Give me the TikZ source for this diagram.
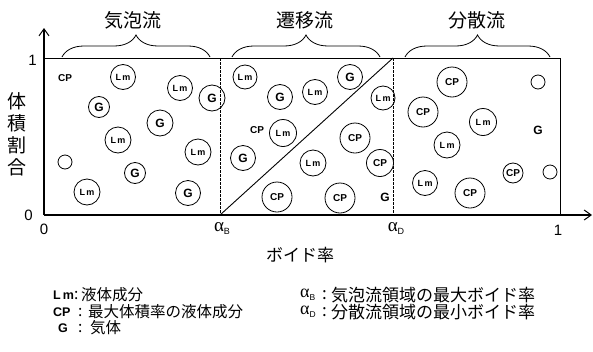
\documentclass[tikz,border=0pt]{standalone}
\usepackage{fontspec}
\setmainfont{Liberation Sans}
\newfontfamily\jp{Noto Sans CJK JP}
\newfontfamily\ser{Liberation Serif}
\usetikzlibrary{decorations.pathreplacing,arrows.meta}
\begin{document}
\begin{tikzpicture}[x=1pt,y=-1pt,
  bub/.style={circle,draw,line width=0.8pt,inner sep=0pt,minimum size=#1},
  lmf/.style={font=\bfseries\fontsize{9}{9}\selectfont},
  gf/.style={font=\bfseries\fontsize{12}{12}\selectfont},
  cpf/.style={font=\bfseries\fontsize{10}{10}\selectfont},
  head/.style={font=\jp\fontsize{19}{19}\selectfont,inner sep=0pt},
  num/.style={font=\fontsize{15}{15}\selectfont,inner sep=0pt},
  alf/.style={font=\ser\fontsize{19}{19}\selectfont,inner sep=0pt},
  leg/.style={font=\jp\fontsize{15.5}{15.5}\selectfont,inner sep=0pt,anchor=west},
  legr/.style={font=\jp\fontsize{17}{17}\selectfont,inner sep=0pt,anchor=west},
  legl/.style={font=\bfseries\fontsize{12.5}{12.5}\selectfont,inner sep=0pt,anchor=west},
  brc/.style={decorate,decoration={brace,amplitude=22pt},line width=0.8pt},
  axis/.style={line width=1.4pt,-{Straight Barb[length=7pt,width=10pt,line width=1pt]}},
  frame/.style={line width=0.9pt},
  dsh/.style={dashed,line width=0.6pt,dash pattern=on 2.5pt off 1.5pt}
]
\useasboundingbox (0,0) rectangle (593,351);
% axes and frame
\coordinate (O) at (44,215);
\coordinate (Yt) at (44,28);
\coordinate (Xr) at (592,215);
\coordinate (TL) at (44,58);
\coordinate (TR) at (560,58);
\coordinate (BR) at (560,215);
\coordinate (aBt) at (220,58);
\coordinate (aBb) at (220,215);
\coordinate (aDt) at (393,58);
\coordinate (aDb) at (393,215);
\draw[frame] (TL) -- (TR) -- (BR);
\draw[dsh] (aBt) -- (aBb);
\draw[dsh] (aDt) -- (aDb);
\draw[line width=0.9pt] (aBb) -- (aDt);
\draw[axis] (O) -- (Yt);
\draw[axis] (O) -- (Xr);
% braces and headings
\coordinate (b1a) at (62,57); \coordinate (b1b) at (210,57);
\coordinate (b2a) at (232,57); \coordinate (b2b) at (380,57);
\coordinate (b3a) at (405,57); \coordinate (b3b) at (550,57);
\draw[brc] (b1a) -- (b1b);
\draw[brc] (b2a) -- (b2b);
\draw[brc] (b3a) -- (b3b);
\node[head] (hB) at (133,20) {気泡流};
\node[head] (hT) at (305,20) {遷移流};
\node[head] (hD) at (477,20) {分散流};
% axis labels
\node[num,anchor=east] (y1) at (37,60) {1};
\node[num,anchor=east] (y0) at (33,215) {0};
\node[num] (x0) at (44,229) {0};
\node[num] (x1) at (558,230) {1};
\node[alf] (xB) at (222,229) {α\raisebox{-3pt}{\rmfamily\fontsize{9}{9}\selectfont B}};
\node[alf] (xD) at (396,229) {α\raisebox{-3pt}{\rmfamily\fontsize{9}{9}\selectfont D}};
\node[head,font=\jp\fontsize{17}{17}\selectfont] (xl) at (300,255) {ボイド率};
\node[head,align=center,font=\jp\fontsize{19}{22}\selectfont] (yl) at (17,134) {体\\積\\割\\合};
% bubbly region
\node[cpf] (c1) at (65,78) {CP};
\node[bub=25pt,lmf] (b1) at (123,77) {L\,m};
\node[bub=25pt,lmf] (b2) at (180,88) {L\,m};
\node[bub=26pt,gf] (b3) at (212,98) {G};
\node[bub=21pt,gf] (b4) at (99,107) {G};
\node[bub=26pt,gf] (b5) at (160,123) {G};
\node[bub=26pt,lmf] (b6) at (118,140) {L\,m};
\node[bub=26pt,lmf] (b7) at (198,152) {L\,m};
\node[bub=14pt] (b8) at (65,162) {};
\node[bub=21pt,gf] (b9) at (135,173) {G};
\node[bub=26pt,lmf] (b10) at (87,192) {L\,m};
\node[bub=25pt,gf] (b11) at (188,193) {G};
% transition region
\node[bub=24pt,lmf] (t1) at (245,77) {L\,m};
\node[bub=25pt,gf] (t2) at (280,97) {G};
\node[bub=25pt,lmf] (t3) at (315,92) {L\,m};
\node[bub=25pt,gf] (t4) at (350,77) {G};
\node[bub=24pt,lmf] (t5) at (383,98) {L\,m};
\node[cpf] (t6) at (257,130) {CP};
\node[bub=27pt,lmf] (t7) at (283,133) {L\,m};
\node[bub=25pt,gf] (t8) at (243,158) {G};
\node[bub=30pt,cpf] (t9) at (355,138) {CP};
\node[bub=26pt,lmf] (t10) at (313,163) {L\,m};
\node[bub=27pt,cpf] (t11) at (380,163) {CP};
\node[bub=30pt,cpf] (t12) at (277,197) {CP};
\node[bub=30pt,cpf] (t13) at (340,198) {CP};
\node[gf] (t14) at (385,197) {G};
% dispersed region
\node[bub=30pt,cpf] (d1) at (452,82) {CP};
\node[bub=14pt] (d2) at (538,82) {};
\node[bub=30pt,cpf] (d3) at (423,112) {CP};
\node[bub=27pt,lmf] (d4) at (483,122) {L\,m};
\node[gf] (d5) at (538,130) {G};
\node[bub=26pt,lmf] (d6) at (447,145) {L\,m};
\node[bub=20pt,cpf] (d7) at (513,173) {CP};
\node[bub=14pt] (d8) at (550,172) {};
\node[bub=25pt,lmf] (d9) at (425,183) {L\,m};
\node[bub=30pt,cpf] (d10) at (470,193) {CP};
% legend
\node[legl] (l1) at (53,295) {L\,m};
\node[legl] (l2) at (53,312) {CP};
\node[legl] (l3) at (58,328) {G};
\node[leg] (l1c) at (74,295) {:};
\node[leg] (l2c) at (78,312) {:};
\node[leg] (l3c) at (78,328) {:};
\node[leg] (l1t) at (81,295) {液体成分};
\node[leg] (l2t) at (88,312) {最大体積率の液体成分};
\node[leg] (l3t) at (90,328) {気体};
\node[alf,anchor=west,font=\ser\fontsize{18}{18}\selectfont] (r1) at (300,295) {α\raisebox{-3pt}{\rmfamily\fontsize{8.5}{8.5}\selectfont B}};
\node[alf,anchor=west,font=\ser\fontsize{18}{18}\selectfont] (r2) at (300,312) {α\raisebox{-3pt}{\rmfamily\fontsize{8.5}{8.5}\selectfont D}};
\node[legr] (r1c) at (322,295) {:};
\node[legr] (r2c) at (322,312) {:};
\node[legr] (r1t) at (331,295) {気泡流領域の最大ボイド率};
\node[legr] (r2t) at (331,312) {分散流領域の最小ボイド率};
\end{tikzpicture}
\end{document}
